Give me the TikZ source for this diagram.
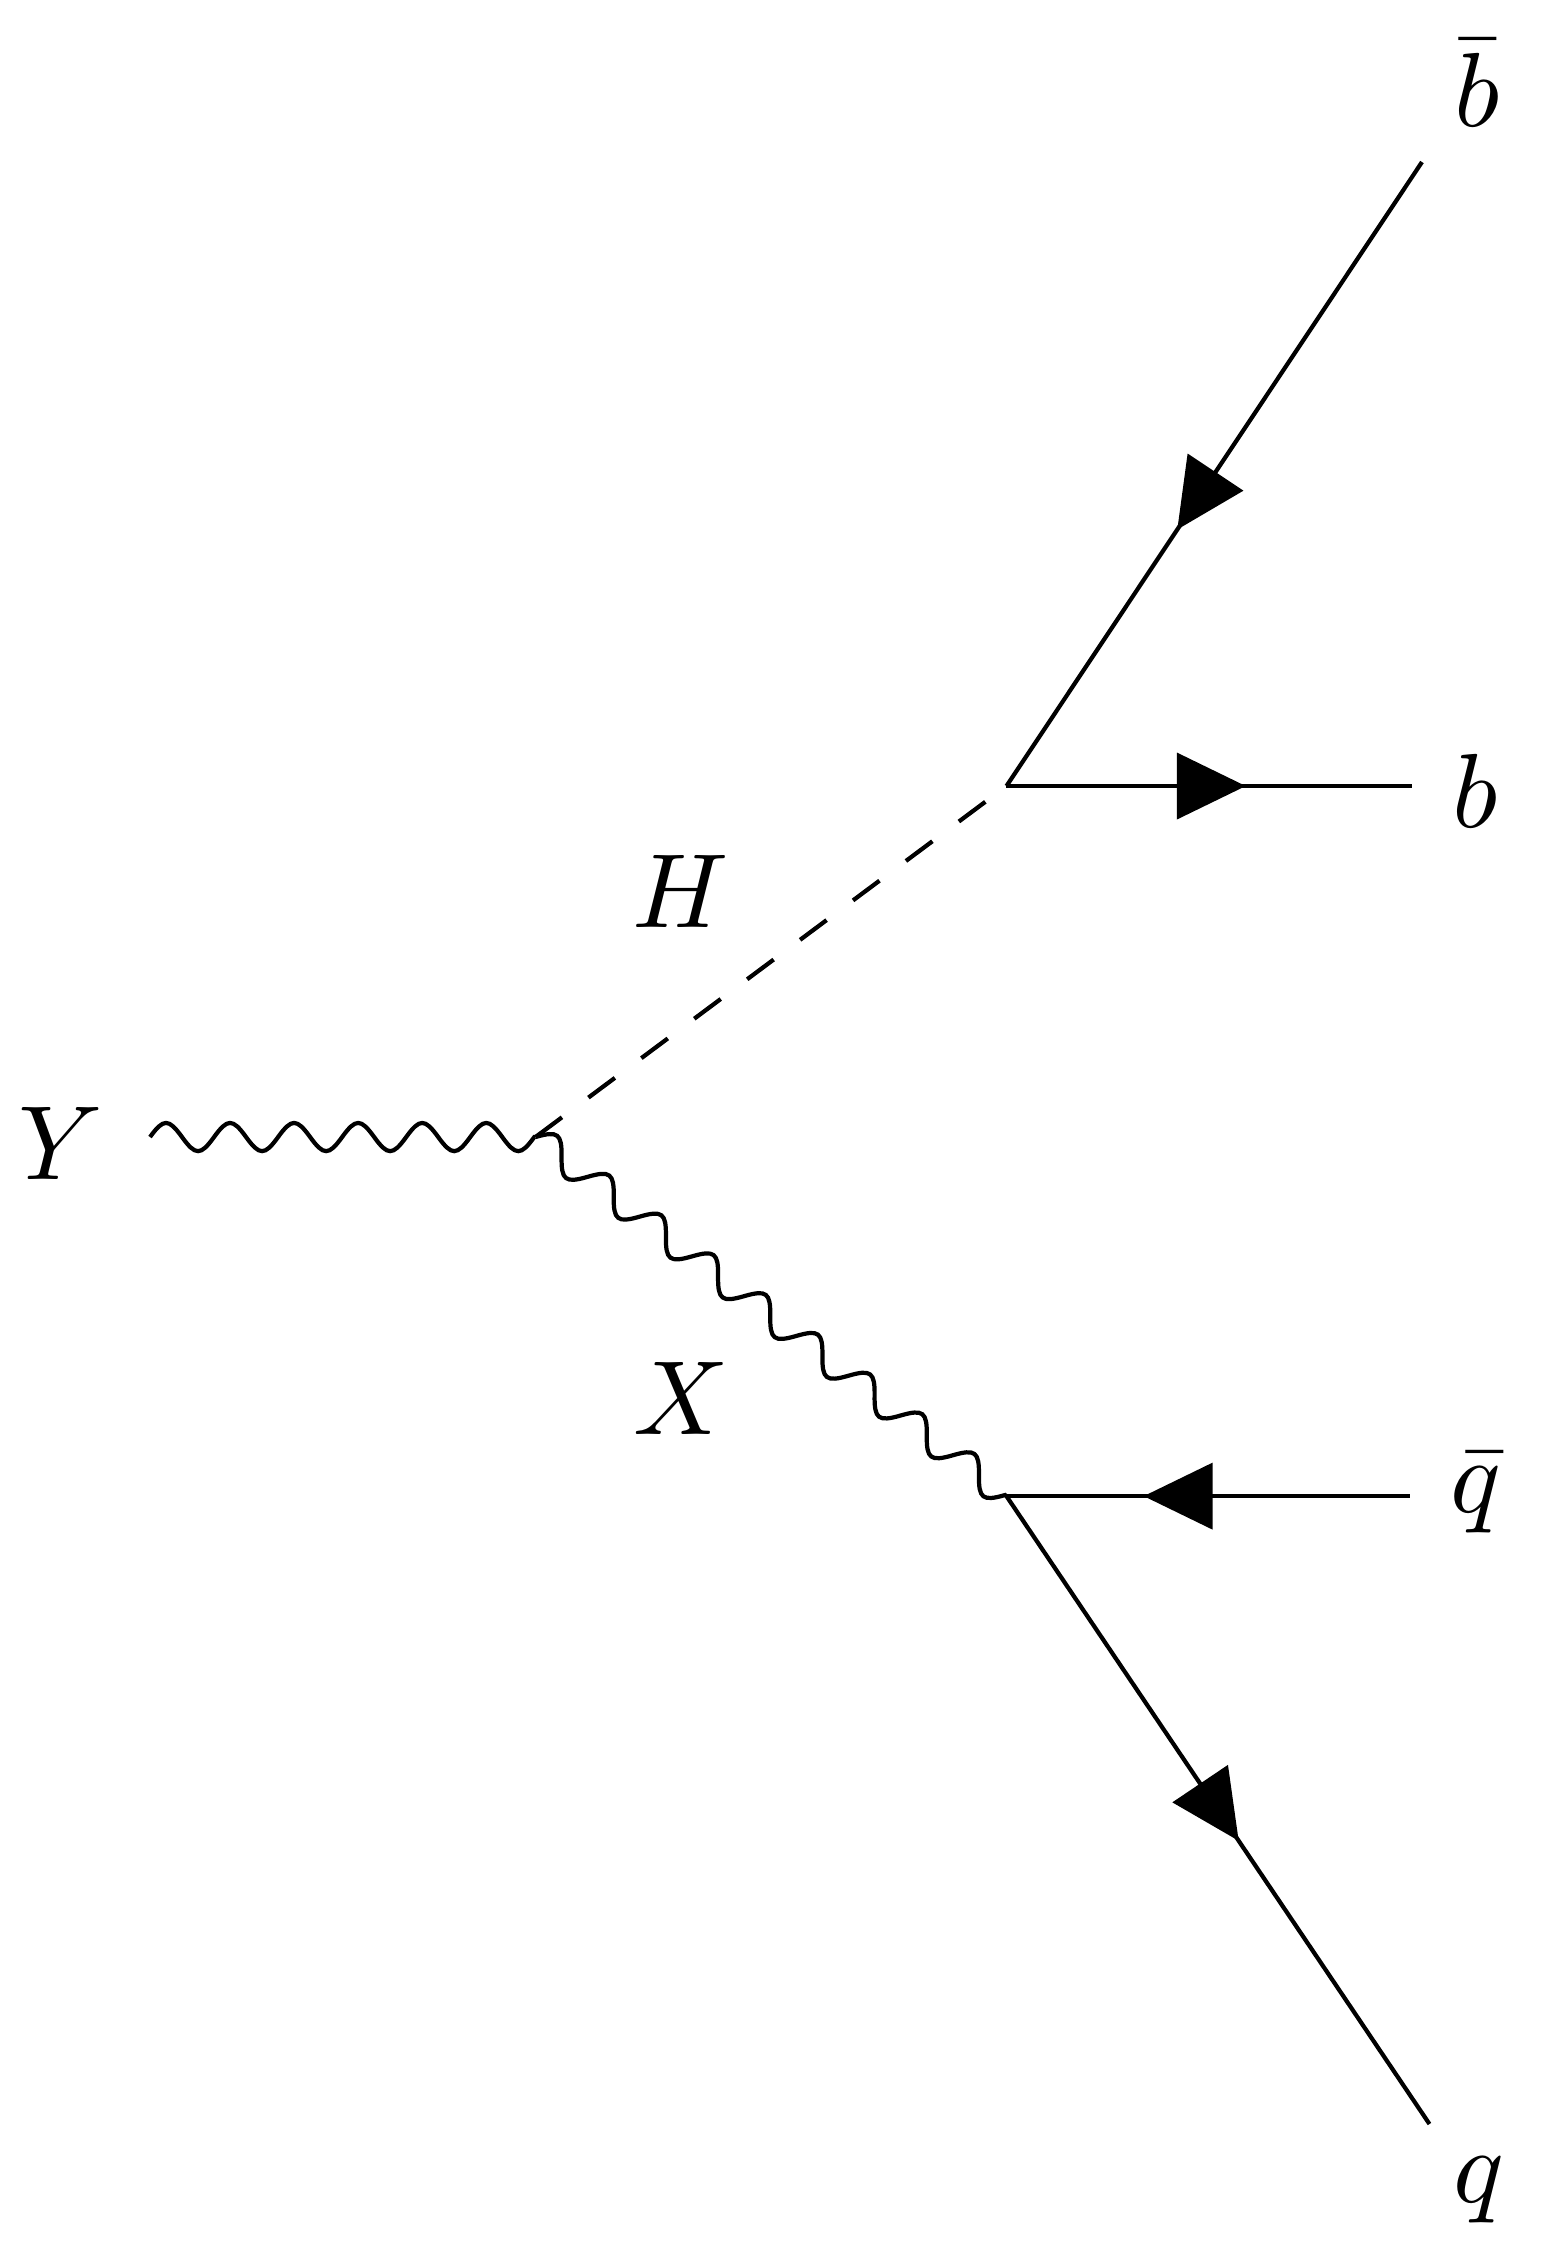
\documentclass[tikz,border=0pt]{standalone}
\usepackage{amsmath}
\usetikzlibrary{decorations.pathmorphing,decorations.markings,arrows.meta}

% sine wave made of half waves, no straight piece at the end
\pgfdeclaredecoration{wavy}{up}{
  \state{up}[switch if less than=+.45\pgfdecorationsegmentlength to final,
             width=+.5\pgfdecorationsegmentlength, next state=down]{
    \pgfpathcurveto{\pgfqpoint{.2122\pgfdecorationsegmentlength}{1.3333\pgfdecorationsegmentamplitude}}
                   {\pgfqpoint{.2878\pgfdecorationsegmentlength}{1.3333\pgfdecorationsegmentamplitude}}
                   {\pgfqpoint{.5\pgfdecorationsegmentlength}{0pt}}
  }
  \state{down}[switch if less than=+.45\pgfdecorationsegmentlength to final,
               width=+.5\pgfdecorationsegmentlength, next state=up]{
    \pgfpathcurveto{\pgfqpoint{.2122\pgfdecorationsegmentlength}{-1.3333\pgfdecorationsegmentamplitude}}
                   {\pgfqpoint{.2878\pgfdecorationsegmentlength}{-1.3333\pgfdecorationsegmentamplitude}}
                   {\pgfqpoint{.5\pgfdecorationsegmentlength}{0pt}}
  }
  \state{final}{\pgfpathlineto{\pgfpointdecoratedpathlast}}
}

\begin{document}
\begin{tikzpicture}[fermion/.style={postaction={decorate,decoration={markings,
        mark=at position #1 with {\arrow{Triangle[length=2.3mm,width=2.2mm]}}}}},
    photon/.style={decorate,decoration={wavy,segment length=#1,amplitude=0.47mm}},
    scalar/.style={dash pattern=on 1.1mm off 1.1mm},
    lbl/.style={anchor=base}]
    \useasboundingbox (0,0) rectangle (5.2133,-7.5133);
    \coordinate (y1) at (0.50,-3.79);
    \coordinate (v1) at (1.785,-3.79);
    \coordinate (v2) at (3.355,-2.62);
    \coordinate (v3) at (3.355,-4.987);
    \coordinate (bb) at (4.74,-0.54);
    \coordinate (b) at (4.707,-2.62);
    \coordinate (qb) at (4.70,-4.987);
    \coordinate (q) at (4.765,-7.08);
    \node[lbl] (Y) at (0.203,-3.933) {$Y$};
    \node[lbl] (H) at (2.27,-3.09) {$H$};
    \node[lbl] (X) at (2.27,-4.78) {$X$};
    \node[lbl] (lbb) at (4.925,-0.423) {$\bar{b}$};
    \node[lbl] (lb) at (4.917,-2.757) {$b$};
    \node[lbl] (lqb) at (4.92,-5.04) {$\bar{q}$};
    \node[lbl] (lq) at (4.93,-7.343) {$q$};
    \draw[photon=2.135mm] (y1) -- (v1);
    \draw[photon=2.187mm] (v1) -- (v3);
    \draw[scalar] (v1) -- (v2);
    \draw[fermion=0.59] (bb) -- (v2);
    \draw[fermion=0.59] (v2) -- (b);
    \draw[fermion=0.66] (qb) -- (v3);
    \draw[fermion=0.55] (v3) -- (q);
\end{tikzpicture}
\end{document}
